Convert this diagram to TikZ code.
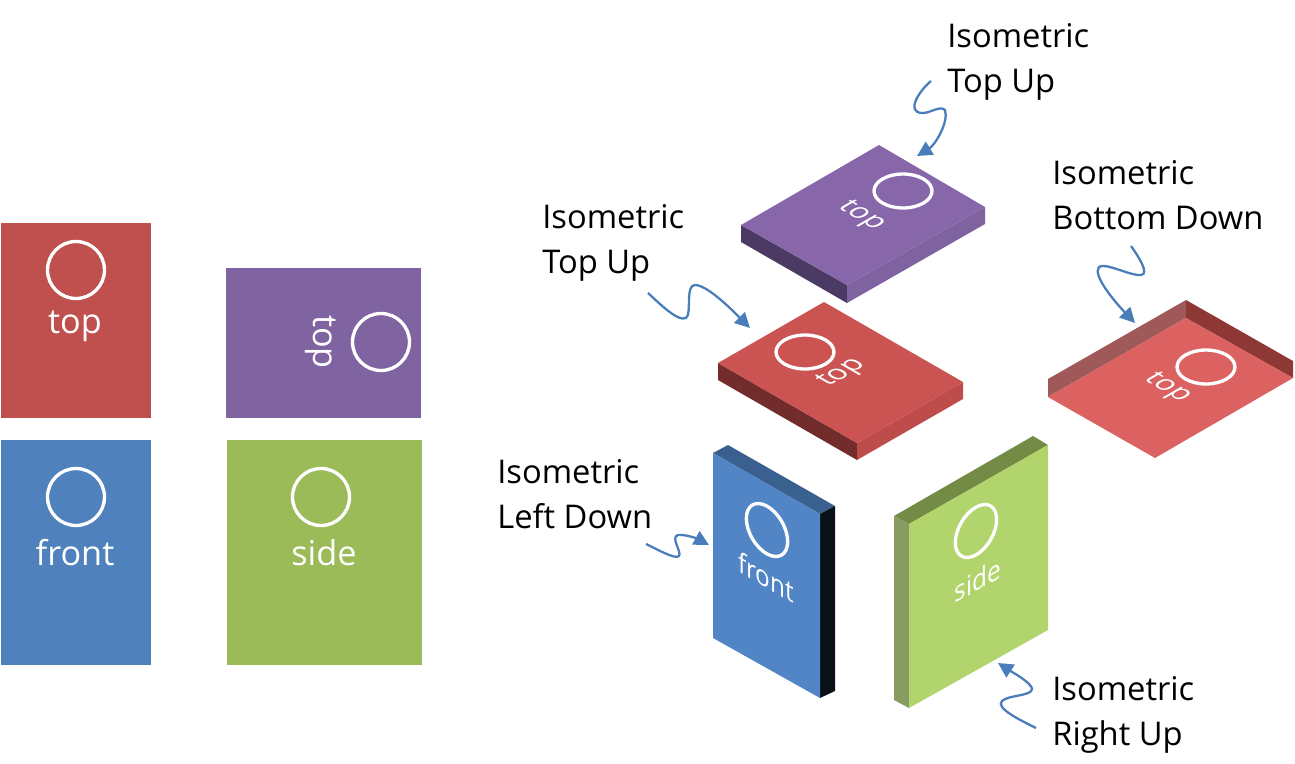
\documentclass[tikz,border=0pt]{standalone}
\usepackage{fontspec}
\setmainfont{Open Sans}
\usetikzlibrary{arrows.meta}
\definecolor{redflat}{HTML}{BF504E}
\definecolor{purpleflat}{HTML}{8064A2}
\definecolor{blueflat}{HTML}{4F81BD}
\definecolor{greenflat}{HTML}{9BBB59}
\definecolor{arrowblue}{HTML}{4A7EBB}
\definecolor{purpleface}{HTML}{8767A9}
\definecolor{purpleleft}{HTML}{4B3A63}
\definecolor{purpleright}{HTML}{7F62A0}
\definecolor{redface}{HTML}{CB5452}
\definecolor{redleft}{HTML}{722C2C}
\definecolor{redright}{HTML}{BE4C4A}
\definecolor{underface}{HTML}{DB6261}
\definecolor{underleft}{HTML}{9F5958}
\definecolor{underright}{HTML}{8E3836}
\definecolor{blueface}{HTML}{5285C6}
\definecolor{bluetop}{HTML}{3A608F}
\definecolor{blueright}{HTML}{0A1018}
\definecolor{greenface}{HTML}{B1D46C}
\definecolor{greentop}{HTML}{748B45}
\definecolor{greenleft}{HTML}{889B60}
\tikzset{
  facelabel/.style={text=white,font=\fontsize{19.5}{22}\selectfont,inner sep=0pt},
  isolabel/.style={align=left,anchor=west,font=\fontsize{18.6}{25.6}\selectfont,inner sep=0pt},
  ring/.style={draw=white,line width=1.9pt},
  squiggle/.style={draw=arrowblue,line width=1.3pt,-{Triangle[length=3mm,width=3mm]}}
}
\begin{document}
\begin{tikzpicture}[x=0.02cm,y=-0.02cm]
  \useasboundingbox (0,0) rectangle (1295,764);
  % flat views
  \fill[redflat] (1,223) rectangle (151,418);
  \draw[ring] (76,270) circle (0.57cm);
  \node[facelabel] (flattop) at (75,326) {top};
  \fill[purpleflat] (226,268) rectangle (421,418);
  \draw[ring] (381,342) circle (0.57cm);
  \node[facelabel,rotate=-90] (flatturned) at (321,342) {top};
  \fill[blueflat] (1,440) rectangle (151,665);
  \draw[ring] (76,497) circle (0.57cm);
  \node[facelabel] (flatfront) at (75,553) {front};
  \fill[greenflat] (227,440) rectangle (422,665);
  \draw[ring] (321,497) circle (0.57cm);
  \node[facelabel] (flatside) at (324,553) {side};
  % purple plate
  \fill[purpleleft] (741,225) -- (847,285) -- (847,303) -- (741,242) -- cycle;
  \fill[purpleright] (847,285) -- (985,207) -- (985,224) -- (847,303) -- cycle;
  \fill[purpleface] (741,225) -- (879,145) -- (985,207) -- (847,285) -- cycle;
  \draw[ring] (903,191) ellipse [x radius=0.58cm,y radius=0.34cm];
  \node[facelabel,cm={0.71,-0.41,0.71,0.41,(0,0)}] (purpletop) at (861,216) {top};
  % red plate
  \fill[redleft] (718,363) -- (857,443) -- (857,460) -- (718,380) -- cycle;
  \fill[redright] (857,443) -- (963,382) -- (963,399) -- (857,460) -- cycle;
  \fill[redface] (718,363) -- (824,302) -- (963,382) -- (857,443) -- cycle;
  \draw[ring] (805,352) ellipse [x radius=0.58cm,y radius=0.34cm];
  \node[facelabel,cm={0.71,0.41,-0.71,0.41,(0,0)}] (redtop) at (842,373) {top};
  % underside plate
  \fill[underleft] (1048,379) -- (1186,300) -- (1186,318) -- (1048,397) -- cycle;
  \fill[underright] (1186,300) -- (1293,361) -- (1293,378) -- (1186,318) -- cycle;
  \fill[underface] (1048,397) -- (1186,318) -- (1293,378) -- (1155,458) -- cycle;
  \draw[ring] (1206,367) ellipse [x radius=0.58cm,y radius=0.34cm];
  \node[facelabel,cm={0.71,-0.41,0.71,0.41,(0,0)}] (undertop) at (1167,388) {top};
  % blue slab
  \fill[bluetop] (713,453) -- (728,445) -- (835,506) -- (820,514) -- cycle;
  \fill[blueright] (820,514) -- (835,506) -- (835,691) -- (820,698) -- cycle;
  \fill[blueface] (713,453) -- (820,514) -- (820,698) -- (713,638) -- cycle;
  \draw[ring] (767,530) ellipse [x radius=0.58cm,y radius=0.34cm,rotate=120];
  \node[facelabel,cm={0.71,-0.41,0,0.82,(0,0)}] (frontface) at (766,577) {front};
  % green slab
  \fill[greentop] (894,516) -- (1033,436) -- (1048,445) -- (909,524) -- cycle;
  \fill[greenleft] (894,516) -- (909,524) -- (909,708) -- (894,700) -- cycle;
  \fill[greenface] (909,524) -- (1048,445) -- (1048,630) -- (909,708) -- cycle;
  \draw[ring] (976,531) ellipse [x radius=0.58cm,y radius=0.34cm,rotate=60];
  \node[facelabel,cm={0.71,0.41,0,0.82,(0,0)}] (sideface) at (978,580) {side};
  % labels
  \node[isolabel] (labtopa) at (947,62) {Isometric\\Top Up};
  \node[isolabel] (labtopb) at (542,243) {Isometric\\Top Up};
  \node[isolabel] (labbottom) at (1052,195) {Isometric\\Bottom Down};
  \node[isolabel] (lableft) at (497,494) {Isometric\\Left Down};
  \node[isolabel] (labright) at (1052,715) {Isometric\\Right Up};
  % squiggly pointers
  \coordinate (starta) at (931,81);
  \coordinate (tipa) at (917,156);
  \coordinate (startb) at (648,293);
  \coordinate (tipb) at (750,328);
  \coordinate (startc) at (1131,246);
  \coordinate (tipc) at (1135,323);
  \coordinate (startd) at (646,544);
  \coordinate (tipd) at (709,545);
  \coordinate (starte) at (1036,728);
  \coordinate (tipe) at (998,663);
  \draw[squiggle] (starta) .. controls (920,90) and (905,112) .. (922,113)
    .. controls (930,113.5) and (940,105) .. (945,110)
    .. controls (949,122) and (935,145) .. (tipa);
  \draw[squiggle] (startb) .. controls (660,304) and (678,322) .. (686,318)
    .. controls (692,314) and (685,285) .. (695,285)
    .. controls (708,285) and (735,313) .. (tipb);
  \draw[squiggle] (startc) .. controls (1138,256) and (1150,274) .. (1141,275)
    .. controls (1130,276) and (1105,262) .. (1099,267)
    .. controls (1092,275) and (1115,302) .. (tipc);
  \draw[squiggle] (startd) .. controls (655,548) and (675,560) .. (679,556)
    .. controls (682,552) and (670,537) .. (678,535)
    .. controls (685,534) and (698,539) .. (tipd);
  \draw[squiggle] (starte) .. controls (1020,720) and (995,708) .. (1002,701)
    .. controls (1008,695) and (1032,696) .. (1032,689)
    .. controls (1032,683) and (1012,672) .. (tipe);
\end{tikzpicture}
\end{document}
